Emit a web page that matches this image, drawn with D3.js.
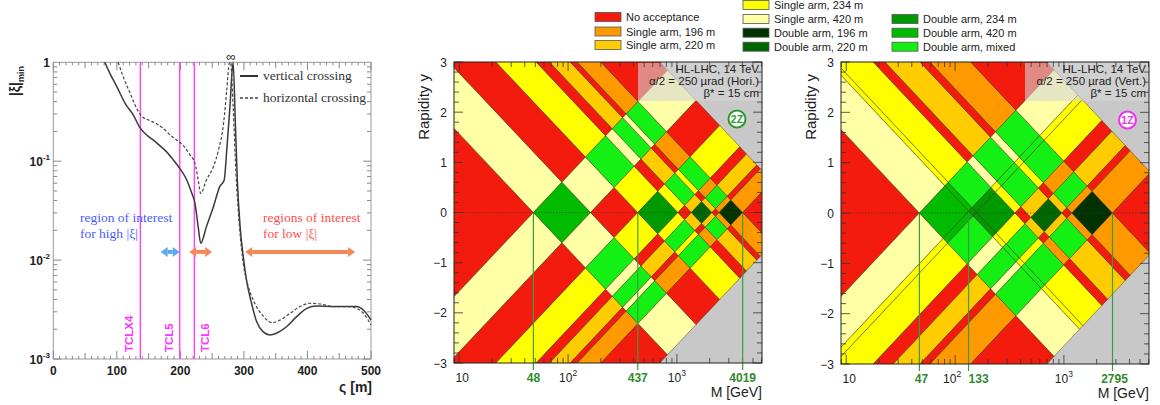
<!DOCTYPE html>
<html>
<head>
<meta charset="utf-8">
<script src="https://cdn.jsdelivr.net/npm/d3@7"></script>
<style>
body { margin: 0; background: #fff; }
svg { display: block; font-family: "Liberation Sans", Arial, sans-serif; }
</style>
</head>
<body>
<svg id="chart" width="1160" height="405"></svg>
<script>
const SQRT_S = 14000

// left panel: |xi|min vs distance from IP
const verticalS = [81, 89, 100, 113, 126, 136, 147, 157, 168, 178, 189, 199, 210, 218, 223, 228, 232, 241, 252, 262, 269, 273, 278, 283, 286.5, 289.6, 294, 299, 304, 312, 320, 330, 341, 351, 367, 383, 399, 414, 441, 462, 477, 488, 500]
const verticalXi = [1.0, 0.774, 0.567, 0.385, 0.293, 0.22, 0.184, 0.164, 0.143, 0.125, 0.103, 0.0847, 0.0646, 0.0473, 0.0375, 0.0218, 0.0148, 0.0218, 0.0347, 0.0553, 0.0646, 0.13, 0.356, 1.0, 0.242, 0.0646, 0.0218, 0.0108, 0.0063, 0.00366, 0.00239, 0.00189, 0.00175, 0.00182, 0.00212, 0.00268, 0.00325, 0.00343, 0.00339, 0.00339, 0.00339, 0.00313, 0.00248]
const horizontalS = [102, 110, 121, 131, 139, 150, 163, 173, 184, 194, 205, 215, 223, 228, 232, 241, 252, 260, 268, 273, 277, 279, 283, 287.5, 293, 299, 307, 317, 331, 344, 357, 373, 388, 404, 420, 441, 462, 477, 488, 500]
const horizontalXi = [1.0, 0.716, 0.486, 0.343, 0.286, 0.261, 0.238, 0.215, 0.184, 0.164, 0.143, 0.116, 0.0952, 0.0646, 0.0473, 0.0646, 0.088, 0.13, 0.242, 0.525, 0.977, 1.0, 0.356, 0.0755, 0.0218, 0.00927, 0.00538, 0.00366, 0.00268, 0.00233, 0.00248, 0.0029, 0.00339, 0.00366, 0.0036, 0.00339, 0.00339, 0.00326, 0.0029, 0.00221]
const collimatorNames = ["TCLX4", "TCL5", "TCL6"]
const collimatorS = [137, 199, 222]
const highXiArrows = [[169, 199]]
const lowXiArrows = [[214, 250], [302, 475]]

// acceptance windows in xi per arm: [xi low, xi high, station]
const horiArm1 = [[0.00343, 0.0115, "420"], [0.0312, 0.073, "234"], [0.097, 0.150, "220"], [0.1745, 0.287, "196"]]
const horiArm2 = [[0.00343, 0.0115, "420"], [0.0312, 0.073, "234"], [0.097, 0.150, "220"], [0.1745, 0.287, "196"]]
const vertArm1 = [[0.00336, 0.0114, "420"], [0.0099, 0.0254, "234"], [0.0326, 0.0684, "220"], [0.0845, 0.1996, "196"]]
const vertArm2 = [[0.00336, 0.0111, "420"], [0.0092, 0.0254, "234"], [0.0388, 0.0684, "220"], [0.0845, 0.1996, "196"]]
const horiMassMarks = [48, 437, 4019]
const vertMassMarks = [47, 133, 2795]

const massDomain = [8.95, 6050]
const rapidityTicks = [-3, -2, -1, 0, 1, 2, 3]
const decadeTicks = [10, 100, 1000]
const decadeExp = ["", "2", "3"]

const stationOrder = ["196", "220", "234", "420"]
const noneColor = "#f31b0d"
const singleColors = {"196": "#ff9900", "220": "#ffcc00", "234": "#ffff00", "420": "#ffffa6"}
const doubleColors = {"196": "#003300", "220": "#006600", "234": "#009900", "420": "#00bb00"}
const mixedColor = "#14f014"
const grayColor = "#c8c8c8"

const legendCols = [
    {box: 595, text: 626, rows: [17, 31.5, 45], items: [["No acceptance", noneColor], ["Single arm, 196 m", singleColors["196"]], ["Single arm, 220 m", singleColors["220"]]]},
    {box: 743, text: 774, rows: [5, 19, 32.7, 46.7], items: [["Single arm, 234 m", singleColors["234"]], ["Single arm, 420 m", singleColors["420"]], ["Double arm, 196 m", doubleColors["196"]], ["Double arm, 220 m", doubleColors["220"]]]},
    {box: 892, text: 923, rows: [19, 32.7, 46.7], items: [["Double arm, 234 m", doubleColors["234"]], ["Double arm, 420 m", doubleColors["420"]], ["Double arm, mixed", mixedColor]]}
]

let svg = d3.select("#chart")
let defs = svg.append("defs")

// ---------------- left panel ----------------
let lx = d3.scaleLinear().domain([0, 500]).range([53.3, 371])
let ly = d3.scaleLog().domain([1e-3, 1]).range([359, 62.3])
let left = svg.append("g")

left.append("rect").attr("x", 53.3).attr("y", 62.3).attr("width", 371 - 53.3).attr("height", 359 - 62.3)
    .attr("fill", "none").attr("stroke", "#9a9a9a")

d3.range(0, 501, 10).forEach(s => {
    let len = s % 100 === 0 ? 8 : (s % 50 === 0 ? 6 : 3)
    left.append("line").attr("x1", lx(s)).attr("x2", lx(s)).attr("y1", 359).attr("y2", 359 - len).attr("stroke", "#888")
    left.append("line").attr("x1", lx(s)).attr("x2", lx(s)).attr("y1", 62.3).attr("y2", 62.3 + len).attr("stroke", "#888")
})
;[0.001, 0.01, 0.1].forEach(d => {
    d3.range(1, 10).forEach(k => {
        let v = d * k
        let len = k === 1 ? 8 : 4
        left.append("line").attr("x1", 53.3).attr("x2", 53.3 + len).attr("y1", ly(v)).attr("y2", ly(v)).attr("stroke", "#888")
        left.append("line").attr("x1", 371).attr("x2", 371 - len).attr("y1", ly(v)).attr("y2", ly(v)).attr("stroke", "#888")
    })
})

d3.range(0, 501, 100).forEach(s => {
    left.append("text").attr("x", lx(s)).attr("y", 375).attr("text-anchor", "middle")
        .attr("font-size", 12).attr("font-weight", "bold").attr("fill", "#222").text(s)
})
;[[1, "1", ""], [0.1, "10", "-1"], [0.01, "10", "-2"], [0.001, "10", "-3"]].forEach(d => {
    let t = left.append("text").attr("x", 50).attr("y", ly(d[0]) + 5).attr("text-anchor", "end")
        .attr("font-size", 12).attr("font-weight", "bold").attr("fill", "#222")
    t.append("tspan").text(d[1])
    if (d[2]) t.append("tspan").attr("dy", -6).attr("font-size", 8).text(d[2])
})
left.append("text").attr("x", 372).attr("y", 392).attr("text-anchor", "end")
    .attr("font-size", 14).attr("font-weight", "bold").attr("fill", "#222").text("ς [m]")
let yt = left.append("text").attr("transform", "translate(20,66) rotate(-90)").attr("text-anchor", "end")
    .attr("font-size", 14).attr("font-weight", "bold").attr("fill", "#222")
yt.append("tspan").text("|ξ|")
yt.append("tspan").attr("dy", 4).attr("font-size", 9).text("min")

// collimators
collimatorS.forEach((s, i) => {
    left.append("line").attr("x1", lx(s)).attr("x2", lx(s)).attr("y1", 62.3).attr("y2", 359)
        .attr("stroke", "#ff40ff").attr("stroke-width", 1.4)
    let tx = i === 2 ? lx(s) + 15 : lx(s) - 7
    left.append("text").attr("transform", "translate(" + tx + ",352) rotate(-90)")
        .attr("font-size", 11.5).attr("font-weight", "bold").attr("fill", "#ff33ff").text(collimatorNames[i])
})

let curve = d3.line().x(d => lx(d[0])).y(d => ly(d[1])).curve(d3.curveMonotoneX)
left.append("path").attr("d", curve(verticalS.map((s, i) => [s, verticalXi[i]])))
    .attr("fill", "none").attr("stroke", "#3a3a3a").attr("stroke-width", 1.5)
left.append("path").attr("d", curve(horizontalS.map((s, i) => [s, horizontalXi[i]])))
    .attr("fill", "none").attr("stroke", "#444").attr("stroke-width", 1.2).attr("stroke-dasharray", "3,2")
left.append("text").attr("x", 231).attr("y", 61).attr("text-anchor", "middle").attr("font-size", 13).attr("fill", "#222").text("∞")

// legend of left panel
left.append("line").attr("x1", 240).attr("x2", 258).attr("y1", 76).attr("y2", 76).attr("stroke", "#333").attr("stroke-width", 2)
left.append("line").attr("x1", 240).attr("x2", 258).attr("y1", 98).attr("y2", 98).attr("stroke", "#444").attr("stroke-width", 1.3).attr("stroke-dasharray", "3,2")
left.append("text").attr("x", 263).attr("y", 80).attr("font-family", "Liberation Serif, serif").attr("font-size", 13.5).attr("fill", "#333").text("vertical crossing")
left.append("text").attr("x", 263).attr("y", 102).attr("font-family", "Liberation Serif, serif").attr("font-size", 13.5).attr("fill", "#333").text("horizontal crossing")

// regions of interest
function doubleArrow(g, x1, x2, yy, color) {
    let h = 5, w = 7
    g.append("line").attr("x1", x1 + w).attr("x2", x2 - w).attr("y1", yy).attr("y2", yy).attr("stroke", color).attr("stroke-width", 4)
    g.append("path").attr("d", `M${x1},${yy}L${x1 + w},${yy - h}L${x1 + w},${yy + h}Z`).attr("fill", color)
    g.append("path").attr("d", `M${x2},${yy}L${x2 - w},${yy - h}L${x2 - w},${yy + h}Z`).attr("fill", color)
}
let arrowY = ly(0.0121)
highXiArrows.forEach(d => doubleArrow(left, lx(d[0]), lx(d[1]), arrowY, "#5aaaf0"))
lowXiArrows.forEach(d => doubleArrow(left, lx(d[0]), lx(d[1]), arrowY, "#f5875a"))
;[["region of interest", 222], ["for high |ξ|", 238]].forEach(d => {
    left.append("text").attr("x", 80).attr("y", d[1]).attr("font-family", "Liberation Serif, serif")
        .attr("font-size", 13.5).attr("fill", "#4d5cff").text(d[0])
})
;[["regions of interest", 222], ["for low |ξ|", 238]].forEach(d => {
    left.append("text").attr("x", 263).attr("y", d[1]).attr("font-family", "Liberation Serif, serif")
        .attr("font-size", 13.5).attr("fill", "#ff4d4d").text(d[0])
})

// ---------------- legend ----------------
let legend = svg.append("g")
legendCols.forEach(col => {
    col.items.forEach((it, i) => {
        legend.append("rect").attr("x", col.box).attr("y", col.rows[i] - 4.5).attr("width", 26).attr("height", 9)
            .attr("fill", it[1]).attr("stroke", "#555").attr("stroke-width", 0.8)
        legend.append("text").attr("x", col.text).attr("y", col.rows[i] + 4).attr("font-size", 11).attr("fill", "#222").text(it[0])
    })
})

// ---------------- acceptance maps ----------------
function segments(arm) {
    let edges = [1e-5, 1]
    arm.forEach(d => edges.push(d[0], d[1]))
    edges = Array.from(new Set(edges)).sort((a, b) => a - b)
    let segs = []
    for (let i = 0; i < edges.length - 1; i++) {
        let a = edges[i], b = edges[i + 1]
        segs.push({a: a, b: b, set: arm.filter(d => d[0] <= a && d[1] >= b).map(d => d[2])})
    }
    return segs
}

function pick(list) {
    return stationOrder.find(s => list.includes(s))
}

function cellColor(s1, s2) {
    if (!s1.length && !s2.length) return noneColor
    if (!s1.length) return singleColors[pick(s2)]
    if (!s2.length) return singleColors[pick(s1)]
    let common = s1.filter(s => s2.includes(s))
    if (common.length) return doubleColors[pick(common)]
    return mixedColor
}

function drawMap(id, f, arm1, arm2, marks, boxLines, tag, tagColor) {
    let x = d3.scaleLog().domain(massDomain).range([f.x0, f.x1])
    let y = d3.scaleLinear().domain([-3, 3]).range([f.y1, f.y0])
    let g = svg.append("g")

    defs.append("clipPath").attr("id", id).append("rect")
        .attr("x", f.x0).attr("y", f.y0).attr("width", f.x1 - f.x0).attr("height", f.y1 - f.y0)
    let cg = g.append("g").attr("clip-path", "url(#" + id + ")")
    cg.append("rect").attr("x", f.x0).attr("y", f.y0).attr("width", f.x1 - f.x0).attr("height", f.y1 - f.y0).attr("fill", grayColor)

    let cells = []
    segments(arm1).forEach(a => segments(arm2).forEach(b => cells.push({a: a, b: b})))
    let toPoint = (k1, k2) => [x(SQRT_S * Math.sqrt(k1 * k2)), y(0.5 * Math.log(k1 / k2))]
    cg.selectAll("path.cell").data(cells).enter().append("path")
        .attr("class", "cell")
        .attr("d", d => "M" + [toPoint(d.a.a, d.b.a), toPoint(d.a.b, d.b.a), toPoint(d.a.b, d.b.b), toPoint(d.a.a, d.b.b)].join("L") + "Z")
        .attr("fill", d => cellColor(d.a.set, d.b.set))
        .attr("stroke", "#3b2a10").attr("stroke-width", 0.6).attr("stroke-opacity", 0.75)

    // y = 0 reference
    g.append("line").attr("x1", f.x0).attr("x2", f.x1).attr("y1", y(0)).attr("y2", y(0))
        .attr("stroke", "#333").attr("stroke-width", 0.8).attr("stroke-dasharray", "1.5,1.5").attr("opacity", 0.7)

    // info box
    cg.append("rect").attr("x", f.boxX).attr("y", f.y0 + 1).attr("width", f.x1 - f.boxX).attr("height", 38)
        .attr("fill", "#d6d6d6").attr("opacity", 0.6)
    boxLines.forEach((t, i) => {
        g.append("text").attr("x", f.x1 - 3).attr("y", f.y0 + 11 + i * 11.8).attr("text-anchor", "end")
            .attr("font-size", 11.5).attr("fill", "#222").text(t)
    })

    // ticks
    let tk = g.append("g").attr("stroke", "#333").attr("stroke-width", 0.8)
    decadeTicks.concat([1]).forEach(dec => {
        d3.range(1, 10).forEach(k => {
            let v = dec * k
            if (v < massDomain[0] || v > massDomain[1]) return
            let len = k === 1 ? 9 : 5
            tk.append("line").attr("x1", x(v)).attr("x2", x(v)).attr("y1", f.y1).attr("y2", f.y1 - len)
            tk.append("line").attr("x1", x(v)).attr("x2", x(v)).attr("y1", f.y0).attr("y2", f.y0 + len)
        })
    })
    d3.range(-3, 3.01, 0.2).forEach(v => {
        let len = Math.abs(v - Math.round(v)) < 0.01 ? 9 : 5
        tk.append("line").attr("x1", f.x0).attr("x2", f.x0 + len).attr("y1", y(v)).attr("y2", y(v))
        tk.append("line").attr("x1", f.x1).attr("x2", f.x1 - len).attr("y1", y(v)).attr("y2", y(v))
    })

    // mass markers
    marks.forEach((m, i) => {
        g.append("line").attr("x1", x(m)).attr("x2", x(m)).attr("y1", y(0)).attr("y2", f.y1 + 7)
            .attr("stroke", "#3f9a3f").attr("stroke-width", 1.2)
        g.append("text").attr("x", x(m) + f.markShift[i]).attr("y", f.y1 + 19).attr("text-anchor", "middle")
            .attr("font-size", 12).attr("font-weight", "bold").attr("fill", "#2f8a2f").text(m)
    })

    g.append("rect").attr("x", f.x0).attr("y", f.y0).attr("width", f.x1 - f.x0).attr("height", f.y1 - f.y0)
        .attr("fill", "none").attr("stroke", "#222").attr("stroke-width", 1)

    // axis labels
    decadeTicks.forEach((v, i) => {
        let t = g.append("text").attr("x", x(v) + f.decadeShift[i]).attr("y", f.y1 + 19).attr("text-anchor", "middle")
            .attr("font-size", 12).attr("fill", "#222")
        t.append("tspan").text("10")
        if (decadeExp[i]) t.append("tspan").attr("dy", -6).attr("font-size", 8.5).text(decadeExp[i])
    })
    rapidityTicks.forEach(v => {
        g.append("text").attr("x", f.x0 - 7).attr("y", y(v) + 4.5).attr("text-anchor", "end")
            .attr("font-size", 12).attr("fill", "#222").text(v < 0 ? "−" + Math.abs(v) : v)
    })
    g.append("text").attr("x", f.x1).attr("y", f.y1 + 34).attr("text-anchor", "end")
        .attr("font-size", 14).attr("fill", "#222").text("M [GeV]")
    g.append("text").attr("transform", "translate(" + (f.x0 - 25) + "," + (f.y0 + 12) + ") rotate(-90)")
        .attr("text-anchor", "end").attr("font-size", 15).attr("fill", "#222").text("Rapidity y")

    // tag
    g.append("circle").attr("cx", f.tagX).attr("cy", f.tagY).attr("r", 8.5)
        .attr("fill", "#fff").attr("stroke", tagColor).attr("stroke-width", 2)
    g.append("text").attr("x", f.tagX).attr("y", f.tagY + 3.8).attr("text-anchor", "middle")
        .attr("font-size", 10.5).attr("font-weight", "bold").attr("fill", tagColor).text(tag)
}

drawMap("clip-hori", {x0: 454, x1: 762, y0: 62, y1: 363, boxX: 638, tagX: 737, tagY: 119, markShift: [0, 0, 0], decadeShift: [3, 0, 0]},
    horiArm1, horiArm2, horiMassMarks,
    ["HL-LHC, 14 TeV", "α/2 = 250 µrad (Hori.)", "β* = 15 cm"], "2Z", "#2d9a2d")
drawMap("clip-vert", {x0: 841, x1: 1149, y0: 62, y1: 364, boxX: 1025, tagX: 1127.5, tagY: 120, markShift: [2, 10, 2], decadeShift: [3, -3, 0]},
    vertArm1, vertArm2, vertMassMarks,
    ["HL-LHC, 14 TeV", "α/2 = 250 µrad (Vert.)", "β* = 15 cm"], "1Z", "#f030f0")
</script>
</body>
</html>
